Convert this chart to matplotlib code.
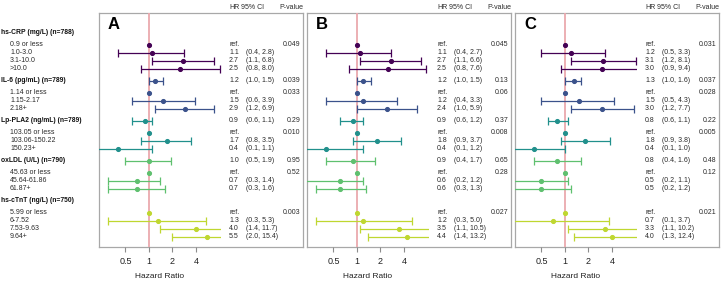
import matplotlib
matplotlib.use('Agg')
import matplotlib.pyplot as plt

plt.rcParams['font.family'] = ['Liberation Sans', 'DejaVu Sans']

# ---------------- data ----------------
groups = ['hs-CRP (mg/L) (n=788)', 'IL-6 (pg/mL) (n=789)', 'Lp-PLA2 (ng/mL) (n=789)',
          'oxLDL (U/L) (n=790)', 'hs-cTnT (ng/L) (n=750)']
categories = [['0.9 or less', '1.0-3.0', '3.1-10.0', '>10.0'],
              ['1.14 or less', '1.15-2.17', '2.18+'],
              ['103.05 or less', '103.06-150.22', '150.23+'],
              ['45.63 or less', '45.64-61.86', '61.87+'],
              ['5.99 or less', '6-7.52', '7.53-9.63', '9.64+']]
group_colors = ['#440154', '#3B528B', '#21908C', '#5FC06F', '#BFD730']
panel_labels = ['A', 'B', 'C']

# continuous (per-unit) estimates shown on the group header row (None = not shown)
cont_hr_A = [None, 1.2, 0.9, 1.0, None]
cont_lo_A = [None, 1.0, 0.6, 0.5, None]
cont_hi_A = [None, 1.5, 1.1, 1.9, None]
cont_p_A = [None, '0.039', '0.29', '0.95', None]
cont_hr_B = [None, 1.2, 0.9, 0.9, None]
cont_lo_B = [None, 1.0, 0.6, 0.4, None]
cont_hi_B = [None, 1.5, 1.2, 1.7, None]
cont_p_B = [None, '0.13', '0.37', '0.65', None]
cont_hr_C = [None, 1.3, 0.8, 0.8, None]
cont_lo_C = [None, 1.0, 0.6, 0.4, None]
cont_hi_C = [None, 1.6, 1.1, 1.6, None]
cont_p_C = [None, '0.037', '0.22', '0.48', None]

# categorical estimates (first category = reference)
cat_hr_A = [[1.0, 1.1, 2.7, 2.5], [1.0, 1.5, 2.9], [1.0, 1.7, 0.4], [1.0, 0.7, 0.7], [1.0, 1.3, 4.0, 5.5]]
cat_lo_A = [[None, 0.4, 1.1, 0.8], [None, 0.6, 1.2], [None, 0.8, 0.1], [None, 0.3, 0.3], [None, 0.3, 1.4, 2.0]]
cat_hi_A = [[None, 2.8, 6.8, 8.0], [None, 3.9, 6.9], [None, 3.5, 1.1], [None, 1.4, 1.6], [None, 5.3, 11.7, 15.4]]
cat_p_A = ['0.049', '0.033', '0.010', '0.52', '0.003']
cat_hr_B = [[1.0, 1.1, 2.7, 2.5], [1.0, 1.2, 2.4], [1.0, 1.8, 0.4], [1.0, 0.6, 0.6], [1.0, 1.2, 3.5, 4.4]]
cat_lo_B = [[None, 0.4, 1.1, 0.8], [None, 0.4, 1.0], [None, 0.9, 0.1], [None, 0.2, 0.3], [None, 0.3, 1.1, 1.4]]
cat_hi_B = [[None, 2.7, 6.6, 7.6], [None, 3.3, 5.9], [None, 3.7, 1.2], [None, 1.2, 1.3], [None, 5.0, 10.5, 13.2]]
cat_p_B = ['0.045', '0.06', '0.008', '0.28', '0.027']
cat_hr_C = [[1.0, 1.2, 3.1, 3.0], [1.0, 1.5, 3.0], [1.0, 1.8, 0.4], [1.0, 0.5, 0.5], [1.0, 0.7, 3.3, 4.0]]
cat_lo_C = [[None, 0.5, 1.2, 0.9], [None, 0.5, 1.2], [None, 0.9, 0.1], [None, 0.2, 0.2], [None, 0.1, 1.1, 1.3]]
cat_hi_C = [[None, 3.3, 8.1, 9.4], [None, 4.3, 7.7], [None, 3.8, 1.0], [None, 1.1, 1.2], [None, 3.7, 10.2, 12.4]]
cat_p_C = ['0.031', '0.028', '0.005', '0.12', '0.021']

x_ticks = [0.5, 1, 2, 4]
x_tick_labels = ['0.5', '1', '2', '4']

panels = [
    (cont_hr_A, cont_lo_A, cont_hi_A, cont_p_A, cat_hr_A, cat_lo_A, cat_hi_A, cat_p_A),
    (cont_hr_B, cont_lo_B, cont_hi_B, cont_p_B, cat_hr_B, cat_lo_B, cat_hi_B, cat_p_B),
    (cont_hr_C, cont_lo_C, cont_hi_C, cont_p_C, cat_hr_C, cat_lo_C, cat_hi_C, cat_p_C),
]

# ---------------- layout ----------------
W, H = 722, 284
fig = plt.figure(figsize=(W / 100, H / 100), dpi=100)


def frac(x0, y0, x1, y1):
    return [x0 / W, 1 - y1 / H, (x1 - x0) / W, (y1 - y0) / H]


box_lefts = [99, 307, 515]
box_w = 204
top_px, bot_px = 13, 247
forest_w = 122
ylim = (26.75, -2.5)

# row positions
header_y = []
cat_y = []
y = 0.0
for cats in categories:
    header_y.append(y)
    y += 1.5
    ys = []
    for _ in cats:
        ys.append(y)
        y += 1
    cat_y.append(ys)
    y += 0.5

fs = 5
ms = 2.7
for pi, (c_hr, c_lo, c_hi, c_p, k_hr, k_lo, k_hi, k_p) in enumerate(panels):
    bl = box_lefts[pi]
    box = fig.add_axes(frac(bl, top_px, bl + box_w, bot_px))
    box.set_xlim(0, box_w)
    box.set_ylim(*ylim)
    box.set_xticks([])
    box.set_yticks([])
    for s in box.spines.values():
        s.set_color('#A8A8A8')
        s.set_linewidth(0.9)

    ax = fig.add_axes(frac(bl, top_px, bl + forest_w, bot_px))
    ax.set_facecolor('none')
    ax.set_xscale('log')
    ax.set_xlim(0.229, 8.36)
    ax.set_ylim(*ylim)
    for s in ax.spines.values():
        s.set_visible(False)
    ax.set_yticks([])
    ax.set_xticks(x_ticks)
    ax.set_xticklabels(x_tick_labels)
    ax.minorticks_off()
    ax.tick_params(axis='x', direction='out', length=3.5, width=0.8, color='#8C8C8C',
                   labelsize=6.5, pad=4, labelcolor='#222222')
    ax.set_xlabel('Hazard Ratio', fontsize=6, labelpad=5, color='#222222')
    ax.axvline(1, color='#EBA9AE', lw=1.3, zorder=1)

    hr_x, ci_x, p_x = 130, 147, box_w - 2.5
    tc = '#2A2A2A'
    for gi in range(len(groups)):
        col = group_colors[gi]
        if c_hr[gi] is not None:
            yy = header_y[gi]
            ax.errorbar(c_hr[gi], yy, xerr=[[c_hr[gi] - c_lo[gi]], [c_hi[gi] - c_hr[gi]]],
                        fmt='o', ms=ms, color=col, ecolor=col, elinewidth=0.9,
                        capsize=3, capthick=0.9, zorder=3)
            box.text(hr_x, yy, f'{c_hr[gi]:.1f}', fontsize=fs, va='center', ha='left', color=tc)
            box.text(ci_x, yy, f'({c_lo[gi]:.1f}, {c_hi[gi]:.1f})', fontsize=fs, va='center',
                     ha='left', color=tc)
            box.text(p_x, yy, c_p[gi], fontsize=fs, va='center', ha='right', color=tc)
        for ci, yy in enumerate(cat_y[gi]):
            h = k_hr[gi][ci]
            lo = k_lo[gi][ci]
            hi = k_hi[gi][ci]
            if lo is None:
                ax.plot([h], [yy], 'o', ms=ms, color=col, zorder=3)
                box.text(hr_x, yy, 'ref.', fontsize=fs, va='center', ha='left', color=tc)
                box.text(p_x, yy, k_p[gi], fontsize=fs, va='center', ha='right', color=tc)
            else:
                ax.errorbar(h, yy, xerr=[[h - lo], [hi - h]], fmt='o', ms=ms, color=col,
                            ecolor=col, elinewidth=0.9, capsize=3, capthick=0.9, zorder=3)
                box.text(hr_x, yy, f'{h:.1f}', fontsize=fs, va='center', ha='left', color=tc)
                box.text(ci_x, yy, f'({lo:.1f}, {hi:.1f})', fontsize=fs, va='center',
                         ha='left', color=tc)

    # column headers
    hy = -3.2
    box.text(hr_x, hy, 'HR', fontsize=fs, va='center', ha='left', color=tc, clip_on=False)
    box.text(142, hy, '95% CI', fontsize=fs, va='center', ha='left', color=tc, clip_on=False)
    box.text(box_w, hy, 'P-value', fontsize=fs, va='center', ha='right', color=tc, clip_on=False)

    box.text(9, -1.1, panel_labels[pi], fontsize=12, fontweight='bold', va='center',
             ha='left', color='black')

    if pi == 0:
        for gi, g in enumerate(groups):
            box.text(1 - bl, header_y[gi], g, fontsize=4.9, fontweight='bold', va='center',
                     ha='left', color='#111111', clip_on=False)
            for ci, yy in enumerate(cat_y[gi]):
                box.text(10 - bl, yy, categories[gi][ci], fontsize=fs, va='center',
                         ha='left', color=tc, clip_on=False)

fig.savefig('out.png', dpi=100)
